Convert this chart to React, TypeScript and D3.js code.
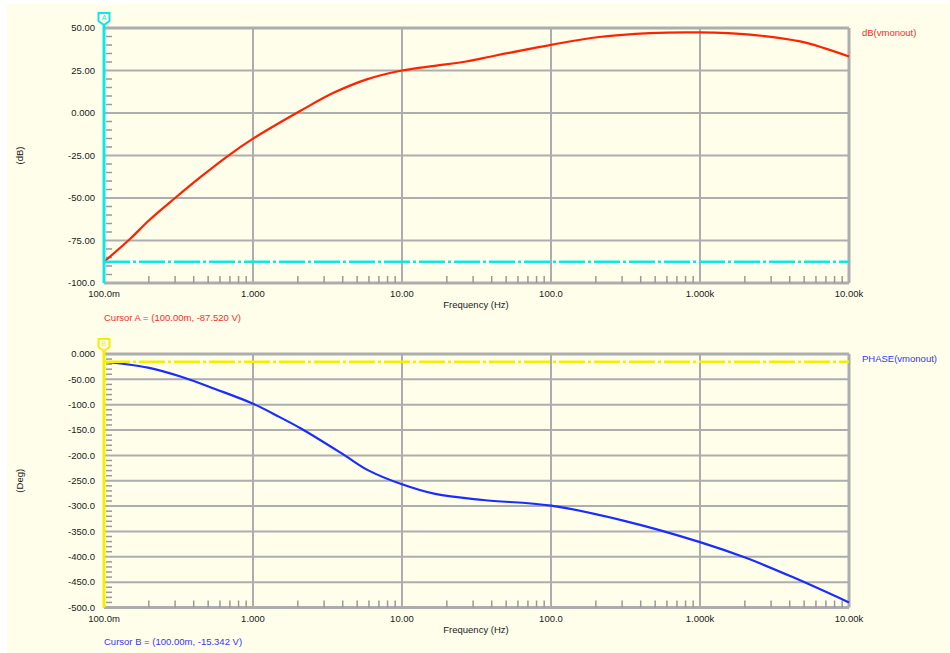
import React from "react";
import * as d3 from "d3";

const xTickValues = [0.1, 1, 10, 100, 1000, 10000];
const xTickLabels = ["100.0m", "1.000", "10.00", "100.0", "1.000k", "10.00k"];

const dbTickValues = [50, 25, 0, -25, -50, -75, -100];
const dbTickLabels = ["50.00", "25.00", "0.000", "-25.00", "-50.00", "-75.00", "-100.0"];

const phTickValues = [0, -50, -100, -150, -200, -250, -300, -350, -400, -450, -500];
const phTickLabels = ["0.000", "-50.00", "-100.0", "-150.0", "-200.0", "-250.0", "-300.0", "-350.0", "-400.0", "-450.0", "-500.0"];

const dbFreq = [0.1, 0.15, 0.2, 0.3, 0.45, 0.67, 1, 1.6, 2.1, 3.5, 5.8, 10, 16, 27, 35, 100, 210, 460, 1000, 2170, 4700, 10000];
const dbValues = [-87.52, -74.0, -63.2, -50.0, -37.3, -25.6, -15.1, -4.4, 1.5, 12.0, 19.8, 25, 27.6, 30.3, 32.3, 40.1, 44.7, 47.0, 47.4, 46.1, 42.1, 33.2];

const phFreq = [0.1, 0.197, 0.33, 0.556, 1, 1.5, 2.1, 4.08, 5.9, 10, 16.7, 35, 100, 320, 1000, 2030, 4260, 10000];
const phValues = [-15.342, -27, -45, -69, -98, -124, -147, -199, -229, -257, -276, -288, -299, -330, -371, -402, -441, -490];

const cursorA = -87.52;
const cursorB = -15.342;

const BG = "#fffeeb";
const GRID = "#adadad";
const FONT = "'Liberation Sans', Arial, sans-serif";

type PanelProps = {
  yDomain: [number, number];
  yRange: [number, number];
  yTicks: number[];
  yLabels: string[];
  yMinorStep: number;
  freq: number[];
  values: number[];
  color: string;
  textColor: string;
  cursorColor: string;
  cursorValue: number;
  cursorLetter: string;
  traceName: string;
  unit: string;
  cursorText: string;
};

const x = d3.scaleLog().domain([0.1, 10000]).range([104, 849]);

function Panel(p: PanelProps) {
  const y = d3.scaleLinear().domain(p.yDomain).range(p.yRange);
  const [yb, yt] = p.yRange;
  const x0 = x.range()[0];
  const x1 = x.range()[1];
  const minorX: number[] = [];
  for (let d = 0.1; d < 10000; d *= 10) {
    for (let m = 2; m <= 9; m++) minorX.push(d * m);
  }
  const minorY: number[] = [];
  const [lo, hi] = p.yDomain;
  for (let v = lo; v <= hi + 1e-9; v += p.yMinorStep) {
    if (!p.yTicks.some((t) => Math.abs(t - v) < 1e-6)) minorY.push(v);
  }
  const line = d3
    .line<number>()
    .x((_, i) => x(p.freq[i]))
    .y((v) => y(v))
    .curve(d3.curveCatmullRom.alpha(0.5));
  const cy = y(p.cursorValue);
  const midY = (yb + yt) / 2;
  return (
    <g>
      {p.yTicks.map((t) => (
        <line key={"h" + t} x1={x0} x2={x1} y1={y(t)} y2={y(t)} stroke={GRID} strokeWidth={2} />
      ))}
      {xTickValues.map((t) => (
        <line key={"v" + t} x1={x(t)} x2={x(t)} y1={yt} y2={yb} stroke={GRID} strokeWidth={t === 10000 ? 3 : 2} />
      ))}
      <line x1={x0} x2={x1} y1={yt} y2={yt} stroke={GRID} strokeWidth={3} />
      <line x1={x0} x2={x1} y1={yb} y2={yb} stroke={GRID} strokeWidth={3} />
      {minorX.map((f) => (
        <line key={"mx" + f} x1={x(f)} x2={x(f)} y1={yb} y2={yb - 7} stroke="#999" strokeWidth={1.5} />
      ))}
      {minorY.map((v) => (
        <line key={"my" + v} x1={x0 + 2} x2={x0 + 8} y1={y(v)} y2={y(v)} stroke="#999" strokeWidth={1.5} />
      ))}
      {p.yTicks.map((t, i) => (
        <text key={"yl" + t} x={95} y={y(t)} dy="0.35em" textAnchor="end" fontSize={9.5} fontFamily={FONT} fill="#1a1a1a">
          {p.yLabels[i]}
        </text>
      ))}
      {xTickValues.map((t, i) => (
        <text key={"xl" + t} x={x(t)} y={yb + 11} dy="0.35em" textAnchor="middle" fontSize={9.5} fontFamily={FONT} fill="#1a1a1a">
          {xTickLabels[i]}
        </text>
      ))}
      <text x={476} y={yb + 22} dy="0.35em" textAnchor="middle" fontSize={9.5} fontFamily={FONT} fill="#1a1a1a">
        Frequency (Hz)
      </text>
      <text
        x={20}
        y={midY}
        transform={`rotate(-90, 20, ${midY})`}
        textAnchor="middle"
        dy="0.35em"
        fontSize={9.5}
        fontFamily={FONT}
        fill="#1a1a1a"
      >
        {p.unit}
      </text>
      <path d={line(p.values) || ""} fill="none" stroke={p.color} strokeWidth={2.2} />
      <line x1={x0} x2={x1} y1={cy} y2={cy} stroke={p.cursorColor} strokeWidth={2.5} strokeDasharray="26 3 3 3" />
      <line x1={x0} x2={x0} y1={yt - 3} y2={yb} stroke={p.cursorColor} strokeWidth={3} />
      <path
        d={`M${x0 - 5.5},${yt - 15} L${x0 + 5.5},${yt - 15} L${x0 + 5.5},${yt - 7} L${x0},${yt - 3} L${x0 - 5.5},${yt - 7} Z`}
        fill={BG}
        stroke={p.cursorColor}
        strokeWidth={2}
      />
      <text x={x0} y={yt - 8.5} textAnchor="middle" fontSize={7} fontFamily={FONT} fill={p.cursorColor}>
        {p.cursorLetter}
      </text>
      <text x={862} y={yt + 5} dy="0.35em" fontSize={9.5} fontFamily={FONT} fill={p.textColor}>
        {p.traceName}
      </text>
      <text x={104} y={yb + 34.5} dy="0.35em" fontSize={9.5} fontFamily={FONT} fill={p.textColor}>
        {p.cursorText}
      </text>
    </g>
  );
}

export default function App() {
  return (
    <svg width={950} height={653} style={{ position: "absolute", left: 0, top: 0 }}>
      <rect x={0} y={0} width={950} height={653} fill="#ffffff" />
      <rect x={7} y={4} width={943} height={649} fill={BG} />
      <Panel
        yDomain={[-100, 50]}
        yRange={[283, 28]}
        yTicks={dbTickValues}
        yLabels={dbTickLabels}
        yMinorStep={5}
        freq={dbFreq}
        values={dbValues}
        color="#ff2200"
        textColor="#ff2a2a"
        cursorColor="#10e6e6"
        cursorValue={cursorA}
        cursorLetter="A"
        traceName="dB(vmonout)"
        unit="(dB)"
        cursorText="Cursor A = (100.00m, -87.520 V)"
      />
      <Panel
        yDomain={[-500, 0]}
        yRange={[607.5, 354]}
        yTicks={phTickValues}
        yLabels={phTickLabels}
        yMinorStep={10}
        freq={phFreq}
        values={phValues}
        color="#1a2cff"
        textColor="#3535ff"
        cursorColor="#f2f000"
        cursorValue={cursorB}
        cursorLetter="B"
        traceName="PHASE(vmonout)"
        unit="(Deg)"
        cursorText="Cursor B = (100.00m, -15.342 V)"
      />
    </svg>
  );
}
